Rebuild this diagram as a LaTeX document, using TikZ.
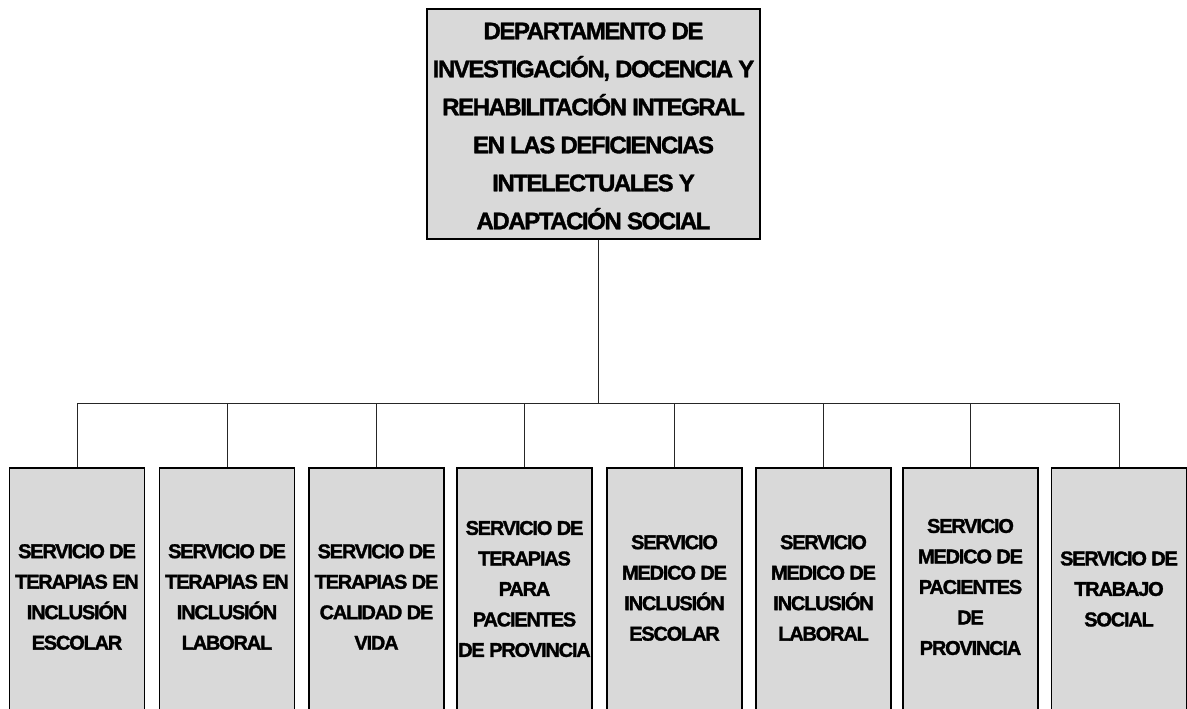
\documentclass[tikz,border=0pt]{standalone}
\usepackage{fontspec}
\setmainfont{Liberation Sans}
\newfontfamily\orgfont{Liberation Sans}[LetterSpace=-6,FakeBold=1.5]
\begin{document}
\begin{tikzpicture}[x=1pt,y=-1pt]
\tikzset{
  box/.style={draw=black, line width=1.1pt, fill=black!15, rectangle, inner sep=0pt},
  topbox/.style={box, minimum width=333pt, minimum height=230pt},
  subbox/.style={box, minimum width=135pt, minimum height=242pt},
  toplbl/.style={font=\orgfont\bfseries\fontsize{24}{38}\selectfont, align=center, inner sep=0pt},
  lbl/.style={font=\orgfont\bfseries\fontsize{20}{30.5}\selectfont, align=center, inner sep=0pt},
  conn/.style={line width=1pt, draw=black!85}
}
\useasboundingbox (0,0) rectangle (1187,709);

\node[topbox] (top) at (593.5,124) {};
\node[toplbl] (toptext) at (593.5,126) {DEPARTAMENTO DE\\INVESTIGACIÓN, DOCENCIA Y\\REHABILITACIÓN INTEGRAL\\EN LAS DEFICIENCIAS\\INTELECTUALES Y\\ADAPTACIÓN SOCIAL};

\node[subbox] (b1) at (77,589) {};
\node[subbox] (b2) at (227,589) {};
\node[subbox] (b3) at (376.5,589) {};
\node[subbox] (b4) at (524.5,589) {};
\node[subbox] (b5) at (674.5,589) {};
\node[subbox] (b6) at (823.5,589) {};
\node[subbox] (b7) at (970.5,589) {};
\node[subbox] (b8) at (1119,589) {};

\node[lbl] (t1) at (77,597) {SERVICIO DE\\TERAPIAS EN\\INCLUSIÓN\\ESCOLAR};
\node[lbl] (t2) at (227,597) {SERVICIO DE\\TERAPIAS EN\\INCLUSIÓN\\LABORAL};
\node[lbl] (t3) at (376.5,597) {SERVICIO DE\\TERAPIAS DE\\CALIDAD DE\\VIDA};
\node[lbl] (t4) at (524.5,589) {SERVICIO DE\\TERAPIAS\\PARA\\PACIENTES\\DE PROVINCIA};
\node[lbl] (t5) at (674.5,588) {SERVICIO\\MEDICO DE\\INCLUSIÓN\\ESCOLAR};
\node[lbl] (t6) at (823.5,588) {SERVICIO\\MEDICO DE\\INCLUSIÓN\\LABORAL};
\node[lbl] (t7) at (970.5,587) {SERVICIO\\MEDICO DE\\PACIENTES\\DE\\PROVINCIA};
\node[lbl] (t8) at (1119,589) {SERVICIO DE\\TRABAJO\\SOCIAL};

\coordinate (j) at (598,403);
\draw[conn] (top.south -| j) -- (j);
\draw[conn] (b1.north |- j) -- (b8.north |- j);
\foreach \i in {1,...,8} \draw[conn] (b\i.north) -- (b\i.north |- j);
\end{tikzpicture}
\end{document}
